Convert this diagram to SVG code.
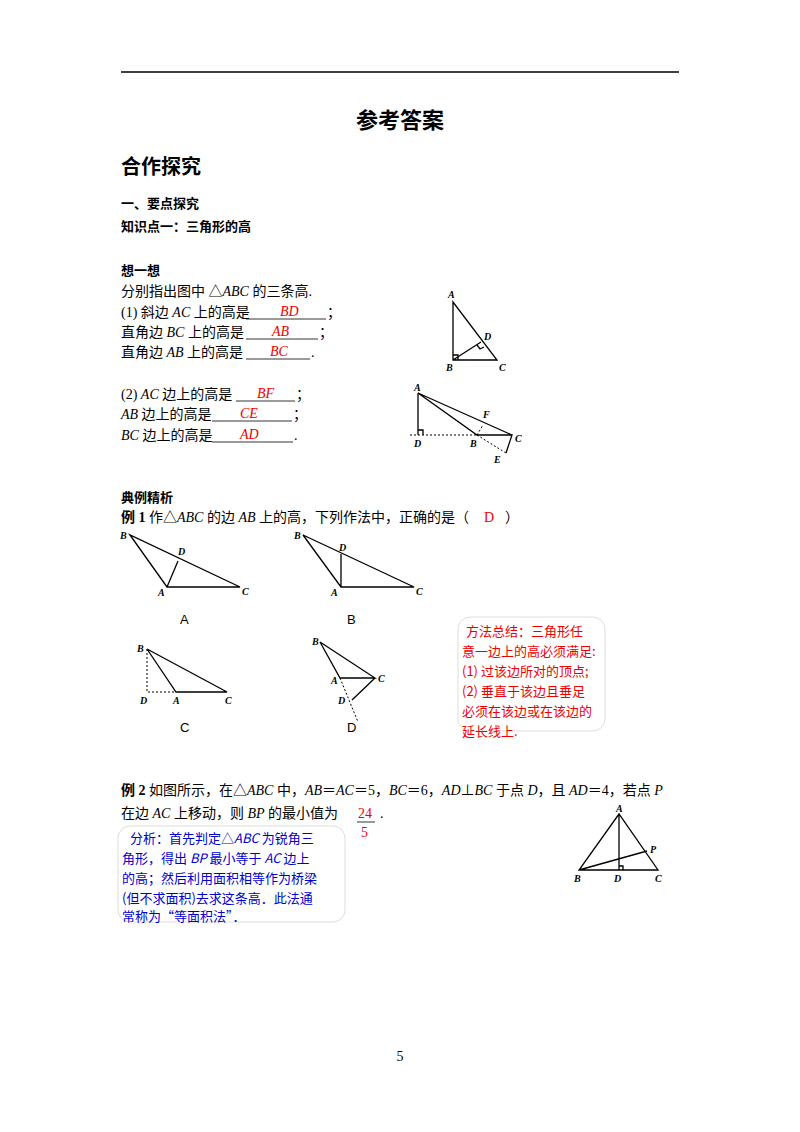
<svg xmlns="http://www.w3.org/2000/svg" width="800" height="1132" viewBox="0 0 800 1132">
<style>
.t{font-family:"Liberation Serif","Noto Sans CJK SC",serif;font-size:14px;fill:#000}
.h{font-family:"Noto Sans CJK SC",sans-serif;font-weight:bold;fill:#000}
.i{font-style:italic}
.r{fill:#e00}
.u{stroke:#000;stroke-width:0.8}
.l{font-family:"Liberation Serif",serif;font-style:italic;font-weight:bold;font-size:10px}
.c{font-family:"Liberation Sans",sans-serif;font-size:13px}
.ln{stroke:#000;stroke-width:1.3;fill:none}
.dt{stroke:#000;stroke-width:1;stroke-dasharray:2 2;fill:none}
.bx{font-family:"Noto Sans CJK SC",sans-serif;font-size:13px}
</style>
<rect width="800" height="1132" fill="#fff"/>
<line x1="121" y1="72" x2="679" y2="72" stroke="#000" stroke-width="1.5"/>
<text class="h" x="400" y="128" font-size="22" text-anchor="middle">参考答案</text>
<text class="h" x="121" y="174" font-size="20">合作探究</text>
<text class="h" x="121" y="208" font-size="13">一、要点探究</text>
<text class="h" x="121" y="231" font-size="13">知识点一：三角形的高</text>
<text class="h" x="121" y="275" font-size="13">想一想</text>
<text class="t" x="121" y="296">分别指出图中 △<tspan class="i">ABC</tspan> 的三条高.</text>
<g id="answers">
<text class="t" x="121" y="317">(1) 斜边 <tspan class="i">AC</tspan> 上的高是</text>
<line class="u" x1="246" y1="319" x2="326" y2="319"/><text class="t i r" x="280" y="316">BD</text><text class="t" x="327" y="317">；</text>
<text class="t" x="121" y="337">直角边 <tspan class="i">BC</tspan> 上的高是</text>
<line class="u" x1="246" y1="339" x2="318" y2="339"/><text class="t i r" x="272" y="336">AB</text><text class="t" x="319" y="337">；</text>
<text class="t" x="121" y="357">直角边 <tspan class="i">AB</tspan> 上的高是</text>
<line class="u" x1="246" y1="359" x2="310" y2="359"/><text class="t i r" x="270" y="356">BC</text><text class="t" x="311" y="357">.</text>
<text class="t" x="121" y="399">(2) <tspan class="i">AC</tspan> 边上的高是</text>
<line class="u" x1="236" y1="401" x2="295" y2="401"/><text class="t i r" x="257" y="398">BF</text><text class="t" x="296" y="399">；</text>
<text class="t" x="121" y="419"><tspan class="i">AB</tspan> 边上的高是</text>
<line class="u" x1="212" y1="421" x2="292" y2="421"/><text class="t i r" x="240" y="418">CE</text><text class="t" x="293" y="419">；</text>
<text class="t" x="121" y="440"><tspan class="i">BC</tspan> 边上的高是</text>
<line class="u" x1="212" y1="442" x2="293" y2="442"/><text class="t i r" x="240" y="439">AD</text><text class="t" x="294" y="440">.</text>
</g>
<g id="fig1">
<path class="ln" d="M453 302 L453 360 L497 360 Z M453 360 L481 342"/>
<path class="ln" stroke-width="1" d="M453 355 L458 355 L458 360 M477 345 L480 349 L484 347"/>
<text class="l" x="448" y="298">A</text><text class="l" x="484" y="340">D</text><text class="l" x="446" y="371">B</text><text class="l" x="499" y="371">C</text>
</g>
<g id="fig2">
<path class="ln" d="M418 393 L418 435 M418 393 L512 435 M418 393 L477 435 L512 435 L506 453"/>
<path class="dt" d="M410 435 L477 435 M477 435 L506 453 M477 435 L483 425"/>
<path class="ln" stroke-width="1" d="M418 430 L423 430 L423 435"/>
<text class="l" x="414" y="391">A</text><text class="l" x="483" y="418">F</text><text class="l" x="414" y="447">D</text><text class="l" x="470" y="447">B</text><text class="l" x="515" y="442">C</text><text class="l" x="494" y="463">E</text>
</g>

<text class="h" x="121" y="502" font-size="13">典例精析</text>
<text class="t" x="121" y="522"><tspan font-weight="bold">例 1</tspan>  作△<tspan class="i">ABC</tspan> 的边 <tspan class="i">AB</tspan> 上的高，下列作法中，正确的是（</text>
<text class="t r" x="484" y="522" font-family="Liberation Sans">D</text>
<text class="t" x="505" y="522">）</text>

<g id="exA">
<path class="ln" stroke-width="1" d="M130 535 L167 587 L240 587 Z M167 587 L178 561"/>
<text class="l" x="120" y="539">B</text><text class="l" x="178" y="555">D</text><text class="l" x="158" y="596">A</text><text class="l" x="242" y="595">C</text>
<text class="c" x="180" y="624">A</text>
</g>
<g id="exB">
<path class="ln" stroke-width="1" d="M303 535 L341 587 L414 587 Z M341 587 L341 554"/>
<text class="l" x="294" y="539">B</text><text class="l" x="339" y="551">D</text><text class="l" x="331" y="596">A</text><text class="l" x="416" y="595">C</text>
<text class="c" x="347" y="624">B</text>
</g>
<g id="exC">
<path class="ln" stroke-width="1" d="M147 649 L176 692 L227 692 Z"/>
<path class="dt" d="M147 649 L147 692 L176 692"/>
<text class="l" x="137" y="652">B</text><text class="l" x="140" y="704">D</text><text class="l" x="173" y="704">A</text><text class="l" x="225" y="704">C</text>
<text class="c" x="180" y="732">C</text>
</g>
<g id="exD">
<path class="ln" stroke-width="1" d="M320 642 L375 678 L340 678 Z M375 678 L352 700"/>
<path class="dt" d="M340 678 L358 722"/>
<text class="l" x="312" y="645">B</text><text class="l" x="331" y="684">A</text><text class="l" x="378" y="682">C</text><text class="l" x="338" y="704">D</text>
<text class="c" x="347" y="732">D</text>
</g>
<g id="box1">
<rect x="458" y="617" width="147" height="114" rx="12" fill="none" stroke="#ddd"/>
<text class="bx r" x="466" y="636">方法总结：三角形任</text>
<text class="bx r" x="462" y="656">意一边上的高必须满足:</text>
<text class="bx r" x="462" y="676">(1) 过该边所对的顶点;</text>
<text class="bx r" x="462" y="696">(2) 垂直于该边且垂足</text>
<text class="bx r" x="462" y="716">必须在该边或在该边的</text>
<text class="bx r" x="462" y="736">延长线上.</text>
</g>

<text class="t" x="121" y="795"><tspan font-weight="bold">例 2</tspan>   如图所示，在△<tspan class="i">ABC</tspan> 中，<tspan class="i">AB</tspan>＝<tspan class="i">AC</tspan>＝5，<tspan class="i">BC</tspan>＝6，<tspan class="i">AD</tspan>⊥<tspan class="i">BC</tspan> 于点 <tspan class="i">D</tspan>，且 <tspan class="i">AD</tspan>＝4，若点 <tspan class="i">P</tspan></text>
<text class="t" x="121" y="818">在边 <tspan class="i">AC</tspan> 上移动，则 <tspan class="i">BP</tspan> 的最小值为</text>
<text class="t r" x="358" y="818">24</text>
<line x1="357" y1="822" x2="375" y2="822" stroke="#000" stroke-width="0.8"/>
<text class="t r" x="361" y="837">5</text>
<text class="t" x="380" y="818">.</text>

<g id="box2">
<rect x="118" y="826" width="227" height="96" rx="12" fill="none" stroke="#ddd"/>
<text class="bx" fill="#00c" x="130" y="843">分析：首先判定△<tspan font-style="italic">ABC</tspan> 为锐角三</text>
<text class="bx" fill="#00c" x="122" y="863">角形，得出 <tspan font-style="italic">BP</tspan> 最小等于 <tspan font-style="italic">AC</tspan> 边上</text>
<text class="bx" fill="#00c" x="122" y="883">的高；然后利用面积相等作为桥梁</text>
<text class="bx" fill="#00c" x="122" y="903">(但不求面积)去求这条高．此法通</text>
<text class="bx" fill="#00c" x="122" y="921">常称为“等面积法”．</text>
</g>
<g id="ex2fig">
<path class="ln" stroke-width="1" d="M619 814 L579 870 L658 870 Z M619 814 L619 870 M579 870 L647 851"/>
<path class="ln" stroke-width="0.8" d="M619 866 L623 866 L623 870"/>
<text class="l" x="616" y="812">A</text><text class="l" x="574" y="882">B</text><text class="l" x="614" y="882">D</text><text class="l" x="655" y="882">C</text><text class="l" x="650" y="853">P</text>
</g>
<text class="t" x="400" y="1061" font-size="12" text-anchor="middle">5</text>
</svg>
